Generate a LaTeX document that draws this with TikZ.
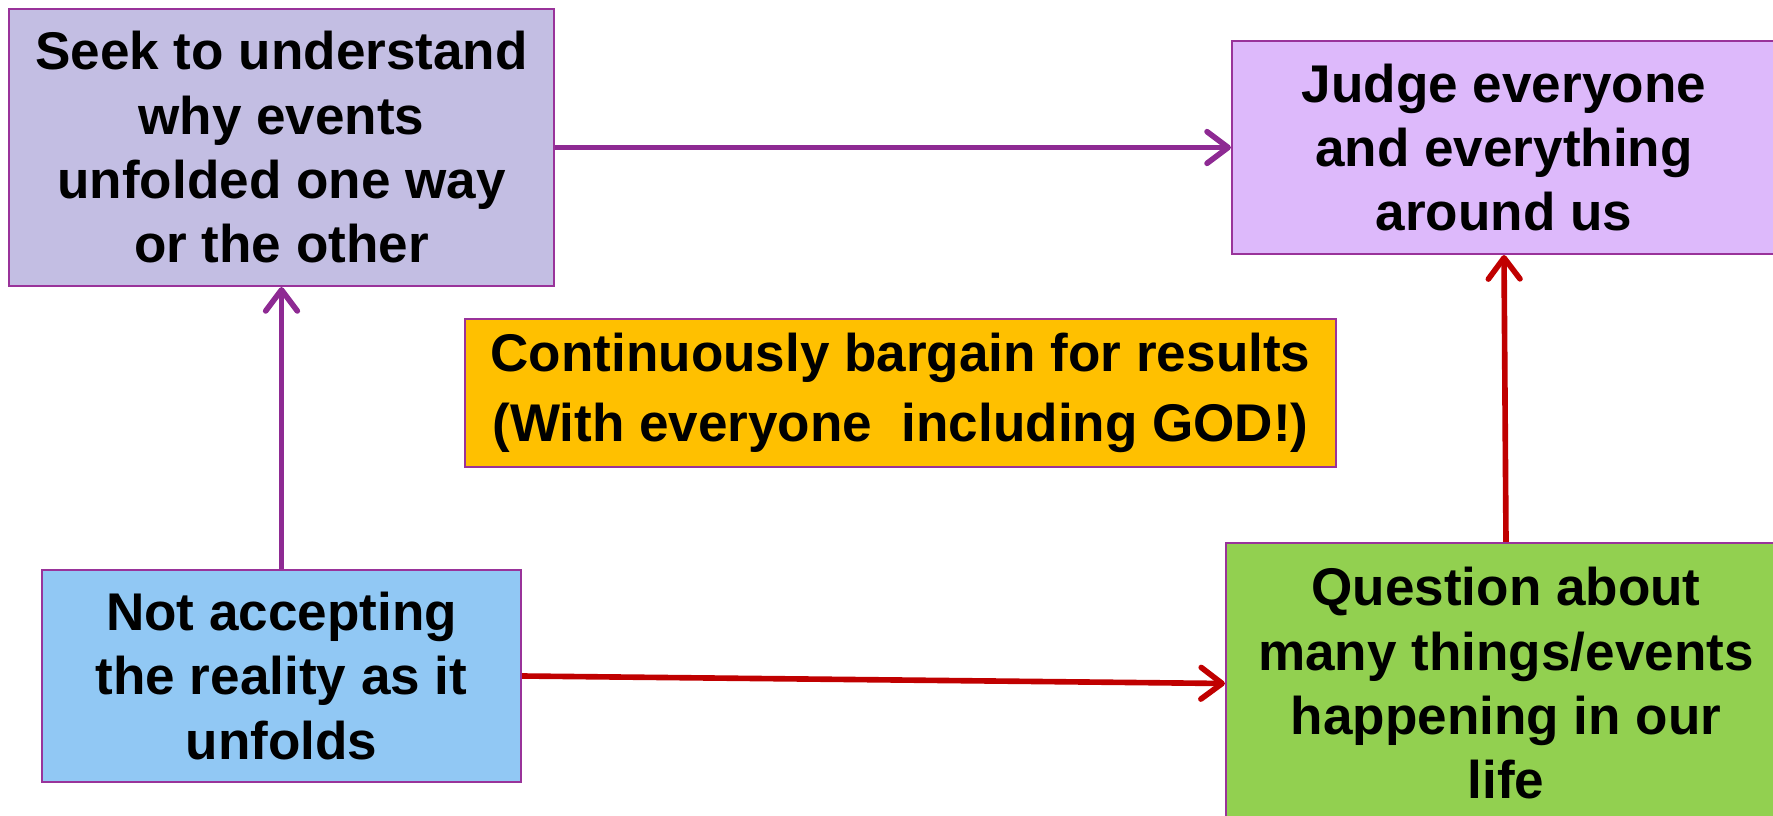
\documentclass[tikz,border=0pt]{standalone}
\usepackage{fontspec}
\setmainfont{Liberation Sans}
\usetikzlibrary{arrows.meta}
\definecolor{bordc}{HTML}{99339A}
\definecolor{purparrow}{HTML}{8E2A93}
\definecolor{redarrow}{HTML}{C00000}
\definecolor{fillA}{HTML}{C3BEE3}
\definecolor{fillJ}{HTML}{DDB9FB}
\definecolor{fillO}{HTML}{FFC000}
\definecolor{fillN}{HTML}{91C8F4}
\definecolor{fillQ}{HTML}{92D050}
\tikzset{
  box/.style={draw=bordc, line width=0.6pt, rectangle, inner sep=0pt, align=center,
    font=\fontsize{15.1}{18.3}\selectfont\bfseries},
  tipstyle/.style={-{Straight Barb[length=6pt,width=9pt,line width=1.6pt,round]}},
  parr/.style={draw=purparrow, line width=1.6pt, tipstyle},
  rarr/.style={draw=redarrow, line width=1.6pt, tipstyle},
}
\begin{document}
\begin{tikzpicture}[x=0.1mm,y=-0.1mm]
\useasboundingbox (0,0) rectangle (1773,816);
\clip (0,0) rectangle (1773,816);
\node[box, fill=fillA, minimum width=545*0.1mm, minimum height=277*0.1mm] (A) at (281.5,147.5)
  {Seek to understand\\why events\\unfolded one way\\or the other};
\node[box, fill=fillJ, minimum width=544*0.1mm, minimum height=213*0.1mm] (J) at (1504,147.5)
  {Judge everyone\\and everything\\around us};
\node[box, fill=fillO, minimum width=871*0.1mm, minimum height=148*0.1mm,
  font=\fontsize{15.1}{20}\selectfont\bfseries] (O) at (900.5,393)
  {Continuously bargain for results\\(With everyone\ \ including GOD!)};
\node[box, fill=fillN, minimum width=479*0.1mm, minimum height=212*0.1mm] (N) at (281.5,676)
  {Not accepting\\the reality as it\\unfolds};
\node[box, fill=fillQ, minimum width=560*0.1mm, minimum height=281*0.1mm] (Q) at (1506,683.5)
  {Question about\\many things/events\\happening in our\\life};
\draw[parr] (A.east) -- (J.west);
\draw[parr] (N.north) -- (A.south);
\draw[rarr] (N.east) -- (Q.west);
\draw[rarr] (Q.north) -- (J.south);
\end{tikzpicture}
\end{document}
